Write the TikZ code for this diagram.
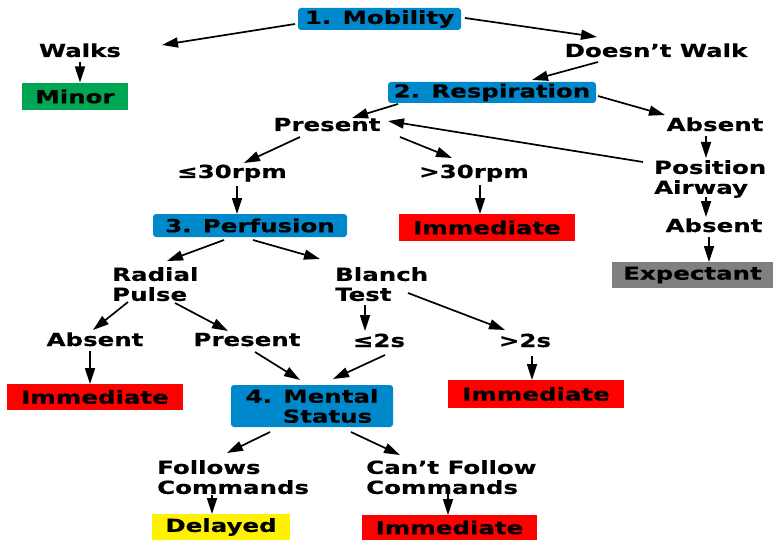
\documentclass[tikz,border=0pt]{standalone}
\usepackage{fontspec}
\setmainfont{DejaVu Sans}[FakeStretch=1.36, FakeBold=0.5]
\usetikzlibrary{arrows.meta}
\definecolor{stageblue}{RGB}{0,136,204}
\definecolor{tagred}{RGB}{255,0,0}
\definecolor{taggreen}{RGB}{0,166,81}
\definecolor{tagyellow}{RGB}{255,242,0}
\definecolor{taggray}{RGB}{128,128,128}
\tikzset{
  lbl/.style={inner sep=2pt, align=left},
  tag/.style={inner sep=0pt},
  stage/.style={fill=stageblue, rounded corners=3pt, inner sep=0pt, align=left},
  arr/.style={line width=1.7pt, -{Triangle[length=16pt,width=10pt]}},
}
% \link{source}{offset}{target}{offset}: arrow between points given relative to two nodes
\newcommand{\link}[4]{\draw[arr] ([shift={(#2)}]#1) -- ([shift={(#4)}]#3);}
\begin{document}
\begin{tikzpicture}[x=1pt, y=-1pt, font=\bfseries\fontsize{18}{20}\selectfont]
\useasboundingbox (0,0) rectangle (773,540);

% stage headers
\node[stage, minimum width=163pt, minimum height=22pt] (mob) at (379.5,19) {1. Mobility};
\node[stage, minimum width=208pt, minimum height=21pt] (resp) at (492,92.5) {2. Respiration};
\node[stage, minimum width=194pt, minimum height=23pt] (perf) at (250,225.5) {3. Perfusion};
\node[stage, minimum width=162pt, minimum height=42pt] (mental) at (312,406) {4. Mental\\\hspace*{37pt}Status};

% triage categories
\node[tag, fill=taggreen, minimum width=106pt, minimum height=27pt] (minor) at (75,96.5) {Minor};
\node[tag, fill=taggray, minimum width=161pt, minimum height=26pt] (expect) at (692.5,275) {Expectant};
\node[tag, fill=tagred, minimum width=176pt, minimum height=27pt] (imm1) at (487,227.5) {Immediate};
\node[tag, fill=tagred, minimum width=176pt, minimum height=26pt] (immL) at (95,397) {Immediate};
\node[tag, fill=tagred, minimum width=176pt, minimum height=28pt] (immR) at (536,394) {Immediate};
\node[tag, fill=tagyellow, minimum width=138pt, minimum height=26pt] (delayed) at (221,527) {Delayed};
\node[tag, fill=tagred, minimum width=175pt, minimum height=25pt] (immB) at (449.5,527.5) {Immediate};

% branch labels
\node[lbl, anchor=base] (walks) at (80,57) {Walks};
\node[lbl, anchor=base] (dw) at (656,57) {Doesn’t Walk};
\node[lbl, anchor=base] (present) at (327,131) {Present};
\node[lbl, anchor=base] (absR) at (715,131) {Absent};
\node[lbl, anchor=north west] (posair) at (652,158) {Position\\Airway};
\node[lbl, anchor=base] (absent2) at (714,232) {Absent};
\node[lbl, anchor=base] (le30) at (232,178) {≤30rpm};
\node[lbl, anchor=base] (gt30) at (474,178) {>30rpm};
\node[lbl, anchor=north west] (radial) at (110,265) {Radial\\Pulse};
\node[lbl, anchor=north west] (blanch) at (333,265) {Blanch\\Test};
\node[lbl, anchor=base] (absL) at (95,346) {Absent};
\node[lbl, anchor=base] (pres2) at (247,346) {Present};
\node[lbl, anchor=base] (le2s) at (379,347) {≤2s};
\node[lbl, anchor=base] (gt2s) at (525,347) {>2s};
\node[lbl, anchor=north west] (follows) at (155,458) {Follows\\Commands};
\node[lbl, anchor=north west] (cantf) at (364,458) {Can’t Follow\\Commands};

% 1. Mobility
\link{mob.center}{-84.5,5}{walks.base}{82,-12}
\link{mob.center}{85.5,-1}{dw.base}{-59,-20}
\link{walks.base}{0,5}{minor.center}{5,-14}
% 2. Respiration
\link{dw.base}{-58,5}{resp.center}{40,-12.5}
\link{resp.center}{-94,11.5}{present.base}{25,-13}
\link{resp.center}{106,3.5}{absR.base}{-50,-16}
\link{absR.base}{-9,5}{posair.north west}{54,0}
\link{posair.north west}{-9,4}{present.base}{61,-10}
\link{posair.north west}{54,39}{absent2.base}{-8,-15}
\link{absent2.base}{-5,5}{expect.center}{16.5,-13}
\link{present.base}{-27,6}{le30.base}{12,-15}
\link{present.base}{73,6}{gt30.base}{-22,-20}
\link{le30.base}{5,8}{perf.center}{-13,-11.5}
\link{gt30.base}{6,7}{imm1.center}{-7,-13.5}
% 3. Perfusion
\link{perf.center}{-26,14.5}{radial.north west}{57,-4}
\link{perf.center}{3,14.5}{blanch.north west}{-13,-6}
\link{radial.north west}{18,37}{absL.base}{-2,-16}
\link{radial.north west}{65,38}{pres2.base}{-19,-15}
\link{blanch.north west}{32,40}{le2s.base}{-14,-16}
\link{blanch.north west}{75,28}{gt2s.base}{-20,-17}
\link{absL.base}{-5,5}{immL.center}{-5,-13}
\link{pres2.base}{8,6}{mental.center}{-12,-26}
\link{le2s.base}{6,8}{mental.center}{21,-27}
\link{gt2s.base}{7,9}{immR.center}{-4,-14}
% 4. Mental status
\link{mental.center}{-42,26}{follows.north west}{72,-5}
\link{mental.center}{39,26}{cantf.north west}{36,-3}
\link{follows.north west}{57,37}{delayed.center}{-9,-13}
\link{cantf.north west}{84,35}{immB.center}{-1.5,-12.5}
\end{tikzpicture}
\end{document}
